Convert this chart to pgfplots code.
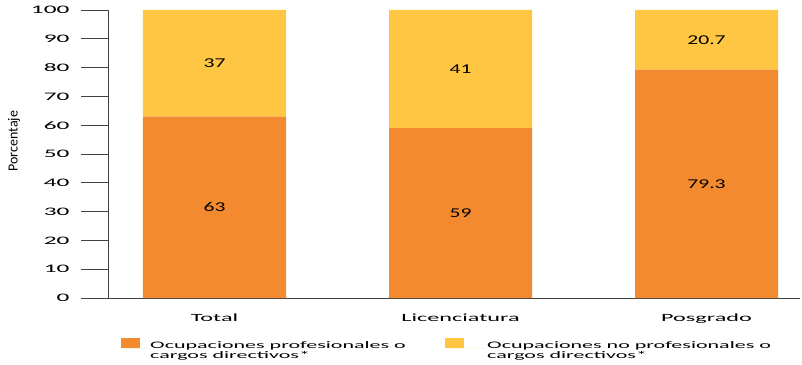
\documentclass[border=0pt]{standalone}
\usepackage{pgfplots}
\pgfplotsset{compat=1.18}
\usepackage{fontspec}
\setmainfont{Carlito}
\newfontfamily\labfont{Carlito}
\newfontfamily\wideA[FakeStretch=2.2]{Carlito}
\newfontfamily\wideB[FakeStretch=1.6]{Carlito}
\definecolor{barorange}{HTML}{F38A2F}
\definecolor{baryellow}{HTML}{FEC643}
\definecolor{axisgray}{HTML}{404040}
\begin{document}
\begin{tikzpicture}
\path[use as bounding box] (-108pt,-66pt) rectangle (694pt,298pt);
\begin{axis}[
  scale only axis,
  width=692pt, height=288pt,
  ybar stacked,
  bar width=0.5813,
  xmin=-0.4329, xmax=2.380,
  ymin=0, ymax=100,
  axis x line*=bottom,
  axis y line*=left,
  axis line style={draw=axisgray, line width=0.8pt},
  xtick={0,1,2},
  xticklabels={Total,Licenciatura,Posgrado},
  xtick style={draw=none},
  xticklabel style={font=\fontsize{11}{13}\wideA, yshift=15pt},
  ytick={0,10,...,100},
  ytick style={draw=axisgray, line width=0.8pt},
  tick align=outside,
  major tick length=27pt,
  yticklabel shift=8pt,
  yticklabel style={font=\fontsize{11.5}{13}\wideA},
  /pgf/number format/assume math mode=true,
  ylabel={Porcentaje},
  ylabel style={at={(axis description cs:-0.1358,0.545)}, anchor=center, font=\fontsize{14}{17}\labfont},
  nodes near coords,
  point meta=explicit symbolic,
  every node near coord/.style={anchor=center, font=\fontsize{13.5}{15}\wideB, text=black},
  legend columns=2,
  legend cell align=left,
  legend style={at={(axis description cs:0,0)}, anchor=north west, xshift=13pt, yshift=-40pt,
    draw=none, fill=none, inner sep=0pt, nodes={inner sep=0pt}, /tikz/column sep=0pt},
]
\addplot[fill=barorange, draw=none,
  legend image code/.code={\fill[barorange] (0pt,0pt) rectangle (19pt,10pt); \path (0pt,0pt) -- (29pt,0pt);}]
  coordinates {(0,63)[63] (1,59)[59] (2,79.3)[79.3]};
\addlegendentry{\parbox[c]{295pt}{\fontsize{10}{9.5}\wideA Ocupaciones profesionales o\\cargos directivos*}}
\addplot[fill=baryellow, draw=none,
  legend image code/.code={\fill[baryellow] (0pt,0pt) rectangle (19pt,10pt); \path (0pt,0pt) -- (42pt,0pt);}]
  coordinates {(0,37)[37] (1,41)[41] (2,20.7)[20.7]};
\addlegendentry{\parbox[c]{310pt}{\fontsize{10}{9.5}\wideA Ocupaciones no profesionales o\\cargos directivos*}}
\end{axis}
\end{tikzpicture}
\end{document}
